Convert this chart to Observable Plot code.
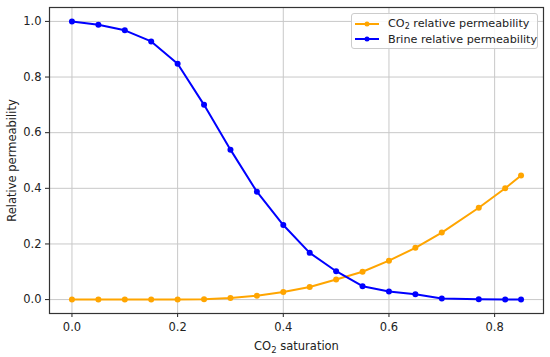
<!DOCTYPE html>
<html>
<head>
<meta charset="utf-8">
<script src="https://cdn.jsdelivr.net/npm/d3@7"></script>
<script src="https://cdn.jsdelivr.net/npm/@observablehq/plot@0.6"></script>
<style>
  body { margin: 0; background: #fff; }
  #wrap { position: relative; width: 550px; height: 357px; font-family: "DejaVu Sans", sans-serif; }
  #legend { position: absolute; left: 351px; top: 13px; width: 187px; height: 36px;
    border: 1px solid #cccccc; border-radius: 3px; background: rgba(255,255,255,0.85);
    font-size: 11.2px; color: #222; box-sizing: border-box; padding-top: 2px; }
  .row { display: flex; align-items: center; height: 15.5px; white-space: nowrap; }
  .row svg { margin-left: 3px; margin-right: 9px; flex: none; }
  sub { font-size: 8px; vertical-align: -2px; line-height: 0; }
</style>
</head>
<body>
<div id="wrap"><div id="chart"></div>
<div id="legend">
  <div class="row"><svg width="24" height="8"><line x1="0" x2="24" y1="4" y2="4" stroke="orange" stroke-width="2"/><circle cx="12" cy="4" r="2.5" fill="orange"/></svg><span>CO<sub>2</sub> relative permeability</span></div>
  <div class="row"><svg width="24" height="8"><line x1="0" x2="24" y1="4" y2="4" stroke="#0000ff" stroke-width="2"/><circle cx="12" cy="4" r="2.5" fill="#0000ff"/></svg><span>Brine relative permeability</span></div>
</div>
</div>
<script>
const saturation = [0, 0.05, 0.1, 0.15, 0.2, 0.25, 0.3, 0.35, 0.4, 0.45, 0.5, 0.55, 0.6, 0.65, 0.7, 0.77, 0.82, 0.85];
const co2Perm   = [0, 0, 0, 0, 0, 0.001, 0.006, 0.014, 0.027, 0.045, 0.072, 0.10, 0.14, 0.186, 0.241, 0.33, 0.40, 0.446];
const brinePerm = [1.0, 0.988, 0.968, 0.928, 0.848, 0.70, 0.539, 0.388, 0.268, 0.168, 0.102, 0.048, 0.029, 0.019, 0.004, 0.001, 0.0, 0.0];
const xTicks = [0, 0.2, 0.4, 0.6, 0.8];
const yTicks = [0, 0.2, 0.4, 0.6, 0.8, 1.0];

const co2 = saturation.map((s, i) => ({s, k: co2Perm[i]}));
const brine = saturation.map((s, i) => ({s, k: brinePerm[i]}));

const chart = Plot.plot({
  width: 550, height: 357,
  marginLeft: 49, marginRight: 7, marginTop: 7, marginBottom: 44,
  style: {fontFamily: "DejaVu Sans, sans-serif", fontSize: "11.5px", color: "#222", background: "#fff"},
  x: {domain: [-0.0425, 0.8925]},
  y: {domain: [-0.05, 1.05]},
  marks: [
    Plot.ruleX(xTicks, {stroke: "#c8c8c8", strokeWidth: 1}),
    Plot.ruleY(yTicks, {stroke: "#c8c8c8", strokeWidth: 1}),
    Plot.axisX({ticks: xTicks, tickFormat: d3.format(".1f"), tickSize: 4, tickPadding: 5,
      label: "CO₂ saturation", labelAnchor: "center", labelArrow: "none", labelOffset: 36, fontSize: 11.5}),
    Plot.axisY({ticks: yTicks, tickFormat: d3.format(".1f"), tickSize: 4, tickPadding: 4,
      label: "Relative permeability", labelAnchor: "center", labelArrow: "none", labelOffset: 42, fontSize: 11.5}),
    Plot.line(co2, {x: "s", y: "k", stroke: "orange", strokeWidth: 2}),
    Plot.dot(co2, {x: "s", y: "k", fill: "orange", r: 3}),
    Plot.line(brine, {x: "s", y: "k", stroke: "#0000ff", strokeWidth: 2}),
    Plot.dot(brine, {x: "s", y: "k", fill: "#0000ff", r: 3}),
    Plot.frame({stroke: "#333", strokeWidth: 1.2})
  ]
});
// render the subscript in the x-axis label as a real subscript
d3.select(chart).selectAll("text").each(function() {
  const t = d3.select(this);
  if (t.text() === "CO₂ saturation") {
    t.text(null);
    t.append("tspan").text("CO");
    t.append("tspan").attr("font-size", "8.5px").attr("dy", "3").text("2");
    t.append("tspan").attr("dy", "-3").text(" saturation");
  }
});
document.getElementById("chart").appendChild(chart);
</script>
</body>
</html>
